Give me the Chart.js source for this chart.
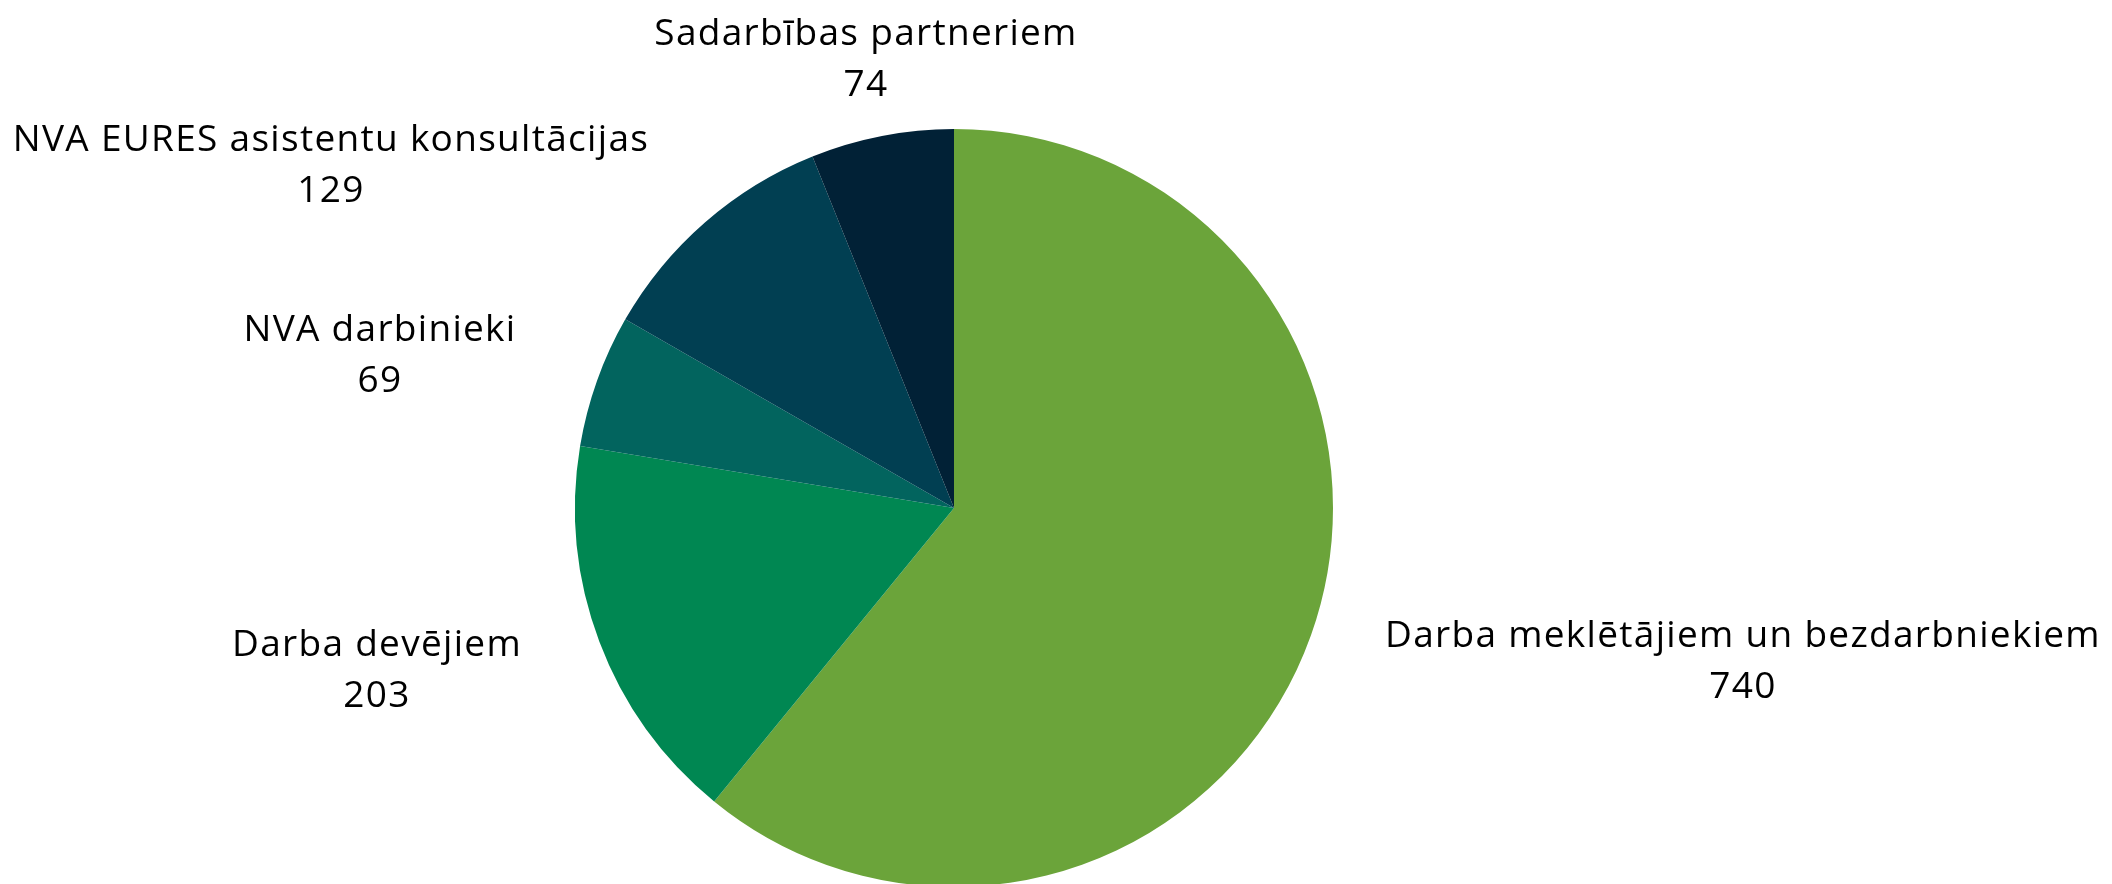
<!DOCTYPE html>
<html>
<head>
<meta charset="utf-8">
<script src="https://cdn.jsdelivr.net/npm/chart.js@4"></script>
<style>
    html, body { margin: 0; padding: 0; background: #ffffff; overflow: hidden; }
    #wrap { width: 2112px; height: 884px; overflow: hidden; }
    #wrap canvas { display: block; }
</style>
</head>
<body>
<div id="wrap"><canvas id="pieCanvas" width="2112" height="892"></canvas></div>
<script>
// 数据
const categories = [
    'Darba meklētājiem un bezdarbniekiem',
    'Darba devējiem',
    'NVA darbinieki',
    'NVA EURES asistentu konsultācijas',
    'Sadarbības partneriem',
];
const values = [740, 203, 69, 129, 74];
const sliceColors = ['#6ba43a', '#008752', '#02645e', '#013f52', '#012136'];

// label anchor (centre of first line), by slice index
const labelAnchors = [
    { x: 1743, y: 636 },
    { x: 377, y: 645 },
    { x: 380, y: 330 },
    { x: 331, y: 140 },
    { x: 866, y: 34 },
];

const labelPlugin = {
    id: 'outsideLabels',
    afterDatasetsDraw: (chart) => {
        const ctx = chart.ctx;
        const dataset = chart.data.datasets[0];
        ctx.save();
        ctx.fillStyle = '#000000';
        ctx.font = "37px 'Open Sans'";
        ctx.letterSpacing = '1.3px';
        ctx.textAlign = 'center';
        ctx.textBaseline = 'middle';
        const lineHeight = 51;
        chart.data.labels.forEach((label, i) => {
            const a = labelAnchors[i];
            ctx.fillText(label, a.x, a.y);
            ctx.fillText(String(dataset.data[i]), a.x, a.y + lineHeight);
        });
        ctx.restore();
    },
};

new Chart(document.getElementById('pieCanvas').getContext('2d'), {
    type: 'pie',
    data: {
        labels: categories,
        datasets: [{
            data: values,
            backgroundColor: sliceColors,
            borderWidth: 0,
        }],
    },
    options: {
        responsive: false,
        animation: false,
        layout: { padding: { top: 129, bottom: 5, left: 575, right: 779 } },
        plugins: {
            legend: { display: false },
            tooltip: { enabled: false },
        },
    },
    plugins: [labelPlugin],
});
</script>
</body>
</html>
